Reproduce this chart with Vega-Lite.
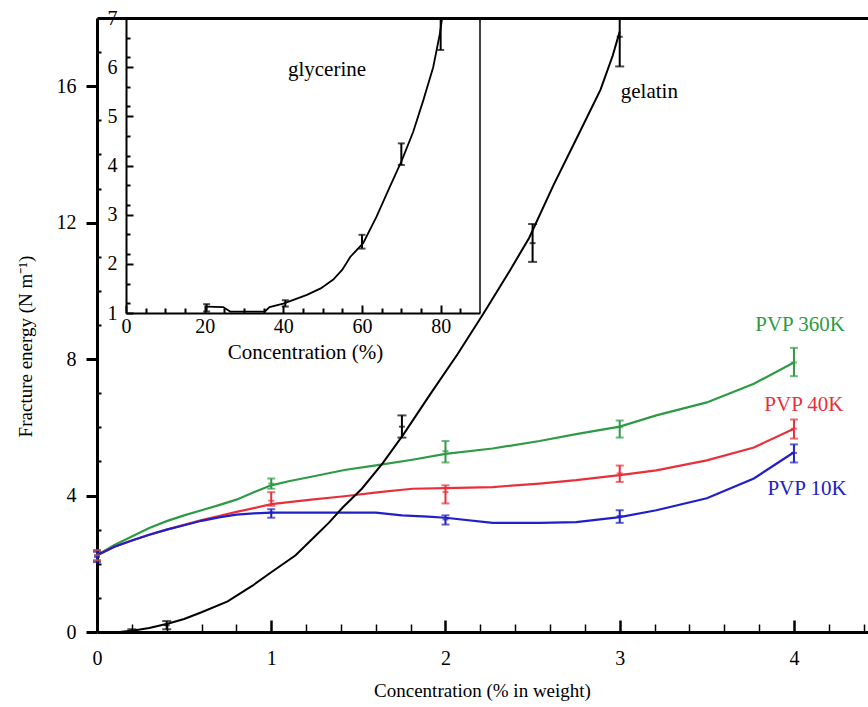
{
  "$schema": "https://vega.github.io/schema/vega-lite/v6.json",
  "width": 771,
  "height": 614,
  "autosize": {"type": "none"},
  "padding": {"left": 97, "top": 18, "right": 0, "bottom": 75},
  "background": "white",
  "config": {
    "view": {"stroke": null},
    "font": "Liberation Serif",
    "axis": {
      "labelFont": "Liberation Serif",
      "titleFont": "Liberation Serif",
      "labelFontSize": 20,
      "titleFontSize": 19,
      "titleFontWeight": "normal",
      "labelColor": "black",
      "titleColor": "black",
      "domainColor": "black",
      "tickColor": "black",
      "grid": false,
      "labelFlush": false,
      "labelOverlap": false
    },
    "text": {"font": "Liberation Serif"}
  },
  "datasets": {
    "pvp_curves": [
      {"c": 0, "e": 2.25, "s": "PVP 360K"}, {"c": 0.1, "e": 2.55, "s": "PVP 360K"}, {"c": 0.2, "e": 2.8, "s": "PVP 360K"}, {"c": 0.3, "e": 3.05, "s": "PVP 360K"}, {"c": 0.4, "e": 3.25, "s": "PVP 360K"}, {"c": 0.5, "e": 3.42, "s": "PVP 360K"}, {"c": 0.6, "e": 3.57, "s": "PVP 360K"}, {"c": 0.7, "e": 3.72, "s": "PVP 360K"}, {"c": 0.8, "e": 3.88, "s": "PVP 360K"}, {"c": 0.9, "e": 4.1, "s": "PVP 360K"}, {"c": 1.0, "e": 4.3, "s": "PVP 360K"}, {"c": 1.1, "e": 4.42, "s": "PVP 360K"}, {"c": 1.23, "e": 4.55, "s": "PVP 360K"}, {"c": 1.42, "e": 4.75, "s": "PVP 360K"}, {"c": 1.62, "e": 4.9, "s": "PVP 360K"}, {"c": 1.81, "e": 5.05, "s": "PVP 360K"}, {"c": 2.0, "e": 5.22, "s": "PVP 360K"}, {"c": 2.27, "e": 5.38, "s": "PVP 360K"}, {"c": 2.54, "e": 5.6, "s": "PVP 360K"}, {"c": 2.75, "e": 5.8, "s": "PVP 360K"}, {"c": 3.0, "e": 6.02, "s": "PVP 360K"}, {"c": 3.21, "e": 6.35, "s": "PVP 360K"}, {"c": 3.5, "e": 6.73, "s": "PVP 360K"}, {"c": 3.77, "e": 7.28, "s": "PVP 360K"}, {"c": 4.0, "e": 7.9, "s": "PVP 360K"},
      {"c": 0, "e": 2.25, "s": "PVP 40K"}, {"c": 0.1, "e": 2.5, "s": "PVP 40K"}, {"c": 0.2, "e": 2.68, "s": "PVP 40K"}, {"c": 0.3, "e": 2.85, "s": "PVP 40K"}, {"c": 0.4, "e": 3.0, "s": "PVP 40K"}, {"c": 0.5, "e": 3.14, "s": "PVP 40K"}, {"c": 0.6, "e": 3.28, "s": "PVP 40K"}, {"c": 0.7, "e": 3.4, "s": "PVP 40K"}, {"c": 0.8, "e": 3.52, "s": "PVP 40K"}, {"c": 0.9, "e": 3.63, "s": "PVP 40K"}, {"c": 1.0, "e": 3.75, "s": "PVP 40K"}, {"c": 1.23, "e": 3.88, "s": "PVP 40K"}, {"c": 1.42, "e": 3.98, "s": "PVP 40K"}, {"c": 1.62, "e": 4.1, "s": "PVP 40K"}, {"c": 1.81, "e": 4.2, "s": "PVP 40K"}, {"c": 2.0, "e": 4.22, "s": "PVP 40K"}, {"c": 2.27, "e": 4.25, "s": "PVP 40K"}, {"c": 2.54, "e": 4.35, "s": "PVP 40K"}, {"c": 2.75, "e": 4.45, "s": "PVP 40K"}, {"c": 3.0, "e": 4.6, "s": "PVP 40K"}, {"c": 3.21, "e": 4.74, "s": "PVP 40K"}, {"c": 3.5, "e": 5.03, "s": "PVP 40K"}, {"c": 3.77, "e": 5.41, "s": "PVP 40K"}, {"c": 4.0, "e": 5.96, "s": "PVP 40K"},
      {"c": 0, "e": 2.25, "s": "PVP 10K"}, {"c": 0.1, "e": 2.5, "s": "PVP 10K"}, {"c": 0.2, "e": 2.68, "s": "PVP 10K"}, {"c": 0.3, "e": 2.85, "s": "PVP 10K"}, {"c": 0.4, "e": 3.0, "s": "PVP 10K"}, {"c": 0.5, "e": 3.13, "s": "PVP 10K"}, {"c": 0.6, "e": 3.26, "s": "PVP 10K"}, {"c": 0.7, "e": 3.36, "s": "PVP 10K"}, {"c": 0.8, "e": 3.44, "s": "PVP 10K"}, {"c": 0.9, "e": 3.48, "s": "PVP 10K"}, {"c": 1.0, "e": 3.5, "s": "PVP 10K"}, {"c": 1.3, "e": 3.5, "s": "PVP 10K"}, {"c": 1.6, "e": 3.5, "s": "PVP 10K"}, {"c": 1.75, "e": 3.42, "s": "PVP 10K"}, {"c": 1.9, "e": 3.38, "s": "PVP 10K"}, {"c": 2.0, "e": 3.35, "s": "PVP 10K"}, {"c": 2.27, "e": 3.2, "s": "PVP 10K"}, {"c": 2.54, "e": 3.2, "s": "PVP 10K"}, {"c": 2.75, "e": 3.22, "s": "PVP 10K"}, {"c": 3.0, "e": 3.37, "s": "PVP 10K"}, {"c": 3.21, "e": 3.57, "s": "PVP 10K"}, {"c": 3.5, "e": 3.92, "s": "PVP 10K"}, {"c": 3.77, "e": 4.5, "s": "PVP 10K"}, {"c": 4.0, "e": 5.27, "s": "PVP 10K"}
    ],
    "pvp_points": [
      {"c": 0, "e": 2.25, "lo": 2.1, "hi": 2.4, "s": "PVP 360K"}, {"c": 1, "e": 4.35, "lo": 4.2, "hi": 4.5, "s": "PVP 360K"}, {"c": 2, "e": 5.3, "lo": 4.97, "hi": 5.6, "s": "PVP 360K"}, {"c": 3, "e": 6.0, "lo": 5.7, "hi": 6.2, "s": "PVP 360K"}, {"c": 4, "e": 7.9, "lo": 7.5, "hi": 8.33, "s": "PVP 360K"},
      {"c": 0, "e": 2.25, "lo": 2.1, "hi": 2.4, "s": "PVP 40K"}, {"c": 1, "e": 3.85, "lo": 3.7, "hi": 4.1, "s": "PVP 40K"}, {"c": 2, "e": 4.1, "lo": 3.77, "hi": 4.3, "s": "PVP 40K"}, {"c": 3, "e": 4.65, "lo": 4.4, "hi": 4.88, "s": "PVP 40K"}, {"c": 4, "e": 5.96, "lo": 5.67, "hi": 6.23, "s": "PVP 40K"},
      {"c": 0, "e": 2.2, "lo": 2.05, "hi": 2.35, "s": "PVP 10K"}, {"c": 1, "e": 3.5, "lo": 3.35, "hi": 3.6, "s": "PVP 10K"}, {"c": 2, "e": 3.3, "lo": 3.15, "hi": 3.42, "s": "PVP 10K"}, {"c": 3, "e": 3.4, "lo": 3.2, "hi": 3.57, "s": "PVP 10K"}, {"c": 4, "e": 5.25, "lo": 4.97, "hi": 5.5, "s": "PVP 10K"}
    ],
    "gelatin_curve": [
      {"c": 0.13, "e": 0.0}, {"c": 0.22, "e": 0.05}, {"c": 0.3, "e": 0.12}, {"c": 0.41, "e": 0.25}, {"c": 0.5, "e": 0.38}, {"c": 0.6, "e": 0.58}, {"c": 0.75, "e": 0.9}, {"c": 0.89, "e": 1.35}, {"c": 1.0, "e": 1.75}, {"c": 1.14, "e": 2.25}, {"c": 1.25, "e": 2.8}, {"c": 1.33, "e": 3.2}, {"c": 1.41, "e": 3.65}, {"c": 1.52, "e": 4.2}, {"c": 1.64, "e": 4.95}, {"c": 1.76, "e": 5.8}, {"c": 1.91, "e": 6.95}, {"c": 2.07, "e": 8.15}, {"c": 2.22, "e": 9.35}, {"c": 2.37, "e": 10.6}, {"c": 2.48, "e": 11.55}, {"c": 2.62, "e": 13.1}, {"c": 2.77, "e": 14.65}, {"c": 2.89, "e": 15.9}, {"c": 2.96, "e": 16.9}, {"c": 3.0, "e": 17.6}
    ],
    "gelatin_points": [
      {"c": 0.2, "e": 0.03, "lo": 0.0, "hi": 0.08}, {"c": 0.4, "e": 0.2, "lo": 0.08, "hi": 0.32}, {"c": 1.75, "e": 6.02, "lo": 5.7, "hi": 6.35}, {"c": 2.5, "e": 11.4, "lo": 10.85, "hi": 11.96}, {"c": 3.0, "e": 17.45, "lo": 16.58, "hi": 18.0}
    ],
    "glycerine_curve": [
      {"c": 20.5, "e": 1.13}, {"c": 24.7, "e": 1.12}, {"c": 26.5, "e": 1.03}, {"c": 35.3, "e": 1.03}, {"c": 36.5, "e": 1.12}, {"c": 40, "e": 1.19}, {"c": 46, "e": 1.37}, {"c": 49.5, "e": 1.5}, {"c": 52.7, "e": 1.68}, {"c": 55, "e": 1.88}, {"c": 57, "e": 2.14}, {"c": 60.3, "e": 2.42}, {"c": 63.7, "e": 2.96}, {"c": 67.1, "e": 3.57}, {"c": 70.1, "e": 4.1}, {"c": 73, "e": 4.68}, {"c": 75.6, "e": 5.33}, {"c": 78.1, "e": 6.0}, {"c": 79.8, "e": 6.68}, {"c": 80.3, "e": 6.96}
    ],
    "glycerine_points": [
      {"c": 20.5, "e": 1.12, "lo": 1.03, "hi": 1.18}, {"c": 40.5, "e": 1.19, "lo": 1.13, "hi": 1.26}, {"c": 60, "e": 2.42, "lo": 2.31, "hi": 2.59}, {"c": 70, "e": 4.18, "lo": 4.01, "hi": 4.45}, {"c": 80, "e": 6.65, "lo": 6.35, "hi": 7.0}
    ],
    "labels_main": [
      {"c": 3.17, "e": 15.84, "label": "gelatin", "s": "gelatin"},
      {"c": 4.035, "e": 9.0, "label": "PVP 360K", "s": "PVP 360K"},
      {"c": 4.057, "e": 6.66, "label": "PVP 40K", "s": "PVP 40K"},
      {"c": 4.075, "e": 4.19, "label": "PVP 10K", "s": "PVP 10K"}
    ],
    "labels_inset": [
      {"c": 51.1, "e": 5.94, "label": "glycerine"}
    ],
    "inset_frame": [
      {"c": 90, "lo": 1, "hi": 7}
    ]
  },
  "layer": [
    {
      "data": {"name": "pvp_points"},
      "layer": [
        {
          "data": {"name": "pvp_curves"},
          "mark": {"type": "line", "strokeWidth": 2.2},
          "encoding": {
            "x": {"field": "c", "type": "quantitative", "scale": {"domain": [0, 4.425], "nice": false, "zero": false},
              "axis": {"orient": "bottom", "values": [0, 1, 2, 3, 4], "format": "d", "tickSize": -12, "tickWidth": 2.5, "domainWidth": 3, "labelPadding": 28, "title": "Concentration (% in weight)", "titleX": 385, "titleY": 58, "titleBaseline": "middle"}},
            "y": {"field": "e", "type": "quantitative", "scale": {"domain": [0, 18], "nice": false, "zero": false},
              "axis": {"orient": "left", "values": [0, 4, 8, 12, 16], "format": "d", "tickSize": 11, "tickWidth": 3, "domainWidth": 3, "labelPadding": 10, "title": "Fracture energy (N m⁻¹)", "titleAngle": -90, "titleX": -72, "titleY": 328, "titleBaseline": "middle"}},
            "color": {"field": "s", "type": "nominal", "scale": {"domain": ["PVP 360K", "PVP 40K", "PVP 10K", "gelatin"], "range": ["#2f9a45", "#e8303a", "#2020c8", "#000000"]}, "legend": null},
            "detail": {"field": "s"}
          }
        },
        {
          "mark": {"type": "rule", "strokeWidth": 2},
          "encoding": {
            "x": {"field": "c", "type": "quantitative", "scale": {"domain": [0, 4.425], "nice": false, "zero": false}},
            "y": {"field": "lo", "type": "quantitative", "scale": {"domain": [0, 18], "nice": false, "zero": false}},
            "y2": {"field": "hi"},
            "color": {"field": "s", "type": "nominal", "scale": {"domain": ["PVP 360K", "PVP 40K", "PVP 10K", "gelatin"], "range": ["#2f9a45", "#e8303a", "#2020c8", "#000000"]}, "legend": null}
          }
        },
        {
          "mark": {"type": "tick", "orient": "horizontal", "size": 8, "thickness": 2},
          "encoding": {
            "x": {"field": "c", "type": "quantitative", "scale": {"domain": [0, 4.425], "nice": false, "zero": false}},
            "y": {"field": "lo", "type": "quantitative", "scale": {"domain": [0, 18], "nice": false, "zero": false}},
            "color": {"field": "s", "type": "nominal", "scale": {"domain": ["PVP 360K", "PVP 40K", "PVP 10K", "gelatin"], "range": ["#2f9a45", "#e8303a", "#2020c8", "#000000"]}, "legend": null}
          }
        },
        {
          "mark": {"type": "tick", "orient": "horizontal", "size": 8, "thickness": 2},
          "encoding": {
            "x": {"field": "c", "type": "quantitative", "scale": {"domain": [0, 4.425], "nice": false, "zero": false}},
            "y": {"field": "hi", "type": "quantitative", "scale": {"domain": [0, 18], "nice": false, "zero": false}},
            "color": {"field": "s", "type": "nominal", "scale": {"domain": ["PVP 360K", "PVP 40K", "PVP 10K", "gelatin"], "range": ["#2f9a45", "#e8303a", "#2020c8", "#000000"]}, "legend": null}
          }
        },
        {
          "mark": {"type": "tick", "orient": "horizontal", "size": 6, "thickness": 2},
          "encoding": {
            "x": {"field": "c", "type": "quantitative", "scale": {"domain": [0, 4.425], "nice": false, "zero": false}},
            "y": {"field": "e", "type": "quantitative", "scale": {"domain": [0, 18], "nice": false, "zero": false}},
            "color": {"field": "s", "type": "nominal", "scale": {"domain": ["PVP 360K", "PVP 40K", "PVP 10K", "gelatin"], "range": ["#2f9a45", "#e8303a", "#2020c8", "#000000"]}, "legend": null}
          }
        }
      ]
    },
    {
      "data": {"name": "gelatin_points"},
      "layer": [
        {
          "data": {"name": "gelatin_curve"},
          "mark": {"type": "line", "strokeWidth": 2, "color": "black"},
          "encoding": {
            "x": {"field": "c", "type": "quantitative", "scale": {"domain": [0, 4.425], "nice": false, "zero": false},
              "axis": {"orient": "bottom", "values": [0.2, 0.4, 0.6, 0.8, 1.2, 1.4, 1.6, 1.8, 2.2, 2.4, 2.6, 2.8, 3.2, 3.4, 3.6, 3.8, 4.2, 4.4], "tickSize": -8, "tickWidth": 1.5, "labels": false, "domain": false, "title": null}},
            "y": {"field": "e", "type": "quantitative", "scale": {"domain": [0, 18], "nice": false, "zero": false},
              "axis": {"orient": "left", "values": [1, 2, 3, 5, 6, 7, 9, 10, 11, 13, 14, 15, 17], "tickSize": -4, "tickWidth": 2, "labels": false, "domain": false, "title": null}}
          }
        },
        {
          "mark": {"type": "rule", "strokeWidth": 2, "color": "black"},
          "encoding": {
            "x": {"field": "c", "type": "quantitative", "scale": {"domain": [0, 4.425], "nice": false, "zero": false}},
            "y": {"field": "lo", "type": "quantitative", "scale": {"domain": [0, 18], "nice": false, "zero": false}},
            "y2": {"field": "hi"}
          }
        },
        {
          "mark": {"type": "tick", "orient": "horizontal", "size": 9, "thickness": 2, "color": "black"},
          "encoding": {
            "x": {"field": "c", "type": "quantitative", "scale": {"domain": [0, 4.425], "nice": false, "zero": false}},
            "y": {"field": "lo", "type": "quantitative", "scale": {"domain": [0, 18], "nice": false, "zero": false}}
          }
        },
        {
          "mark": {"type": "tick", "orient": "horizontal", "size": 9, "thickness": 2, "color": "black"},
          "encoding": {
            "x": {"field": "c", "type": "quantitative", "scale": {"domain": [0, 4.425], "nice": false, "zero": false}},
            "y": {"field": "hi", "type": "quantitative", "scale": {"domain": [0, 18], "nice": false, "zero": false}}
          }
        },
        {
          "mark": {"type": "tick", "orient": "horizontal", "size": 6, "thickness": 2, "color": "black"},
          "encoding": {
            "x": {"field": "c", "type": "quantitative", "scale": {"domain": [0, 4.425], "nice": false, "zero": false}},
            "y": {"field": "e", "type": "quantitative", "scale": {"domain": [0, 18], "nice": false, "zero": false}}
          }
        }
      ]
    },
    {
      "data": {"name": "glycerine_curve"},
      "layer": [
        {
          "mark": {"type": "line", "strokeWidth": 1.8, "color": "black"},
          "encoding": {
            "x": {"field": "c", "type": "quantitative", "scale": {"domain": [0, 90], "range": [29, 383], "nice": false, "zero": false},
              "axis": {"orient": "bottom", "offset": -319, "values": [0, 20, 40, 60, 80], "format": "d", "tickSize": -8, "tickWidth": 2, "domainWidth": 2, "labelPadding": 11, "title": "Concentration (%)", "titleFontSize": 21, "titleX": 208, "titleY": 39, "titleBaseline": "middle"}},
            "y": {"field": "e", "type": "quantitative", "scale": {"domain": [1, 7], "range": [295, 0], "nice": false, "zero": false},
              "axis": {"orient": "left", "offset": -29, "values": [1, 2, 3, 4, 5, 6, 7], "format": "d", "tickSize": -7, "tickWidth": 2, "domainWidth": 2, "labelPadding": 16, "title": null}}
          }
        },
        {
          "data": {"name": "inset_frame"},
          "mark": {"type": "rule", "strokeWidth": 1.5, "color": "black"},
          "encoding": {
            "x": {"field": "c", "type": "quantitative", "scale": {"domain": [0, 90], "range": [29, 383], "nice": false, "zero": false}},
            "y": {"field": "lo", "type": "quantitative", "scale": {"domain": [1, 7], "range": [295, 0], "nice": false, "zero": false}},
            "y2": {"field": "hi"}
          }
        },
        {
          "data": {"name": "labels_inset"},
          "mark": {"type": "text", "fontSize": 21, "color": "black", "align": "center", "baseline": "middle", "font": "Liberation Serif"},
          "encoding": {
            "x": {"field": "c", "type": "quantitative", "scale": {"domain": [0, 90], "range": [29, 383], "nice": false, "zero": false}},
            "y": {"field": "e", "type": "quantitative", "scale": {"domain": [1, 7], "range": [295, 0], "nice": false, "zero": false}},
            "text": {"field": "label"}
          }
        }
      ]
    },
    {
      "data": {"name": "glycerine_points"},
      "layer": [
        {
          "mark": {"type": "rule", "strokeWidth": 2, "color": "black"},
          "encoding": {
            "x": {"field": "c", "type": "quantitative", "scale": {"domain": [0, 90], "range": [29, 383], "nice": false, "zero": false},
              "axis": {"orient": "bottom", "offset": -319, "values": [5, 10, 15, 25, 30, 35, 45, 50, 55, 65, 70, 75, 85], "tickSize": -5, "tickWidth": 2, "labels": false, "domain": false, "title": null}},
            "y": {"field": "lo", "type": "quantitative", "scale": {"domain": [1, 7], "range": [295, 0], "nice": false, "zero": false},
              "axis": {"orient": "left", "offset": -29, "values": [1.2, 1.4, 1.6, 1.8, 2.2, 2.4, 2.6, 2.8, 3.2, 3.4, 3.6, 3.8, 4.2, 4.4, 4.6, 4.8, 5.2, 5.4, 5.6, 5.8, 6.2, 6.4, 6.6, 6.8], "tickSize": -4, "tickWidth": 2, "labels": false, "domain": false, "title": null}},
            "y2": {"field": "hi"}
          }
        },
        {
          "mark": {"type": "tick", "orient": "horizontal", "size": 7, "thickness": 2, "color": "black"},
          "encoding": {
            "x": {"field": "c", "type": "quantitative", "scale": {"domain": [0, 90], "range": [29, 383], "nice": false, "zero": false}},
            "y": {"field": "lo", "type": "quantitative", "scale": {"domain": [1, 7], "range": [295, 0], "nice": false, "zero": false}}
          }
        },
        {
          "mark": {"type": "tick", "orient": "horizontal", "size": 7, "thickness": 2, "color": "black"},
          "encoding": {
            "x": {"field": "c", "type": "quantitative", "scale": {"domain": [0, 90], "range": [29, 383], "nice": false, "zero": false}},
            "y": {"field": "hi", "type": "quantitative", "scale": {"domain": [1, 7], "range": [295, 0], "nice": false, "zero": false}}
          }
        }
      ]
    },
    {
      "data": {"name": "labels_main"},
      "mark": {"type": "text", "fontSize": 21, "align": "center", "baseline": "middle", "font": "Liberation Serif"},
      "encoding": {
        "x": {"field": "c", "type": "quantitative", "scale": {"domain": [0, 4.425], "nice": false, "zero": false},
          "axis": {"orient": "top", "ticks": false, "labels": false, "domainWidth": 3, "title": null}},
        "y": {"field": "e", "type": "quantitative", "scale": {"domain": [0, 18], "nice": false, "zero": false}, "axis": null},
        "text": {"field": "label"},
        "color": {"field": "s", "type": "nominal", "scale": {"domain": ["PVP 360K", "PVP 40K", "PVP 10K", "gelatin"], "range": ["#2f9a45", "#e8303a", "#2020c8", "#000000"]}, "legend": null}
      }
    }
  ],
  "resolve": {"scale": {"x": "independent", "y": "independent"}}
}
